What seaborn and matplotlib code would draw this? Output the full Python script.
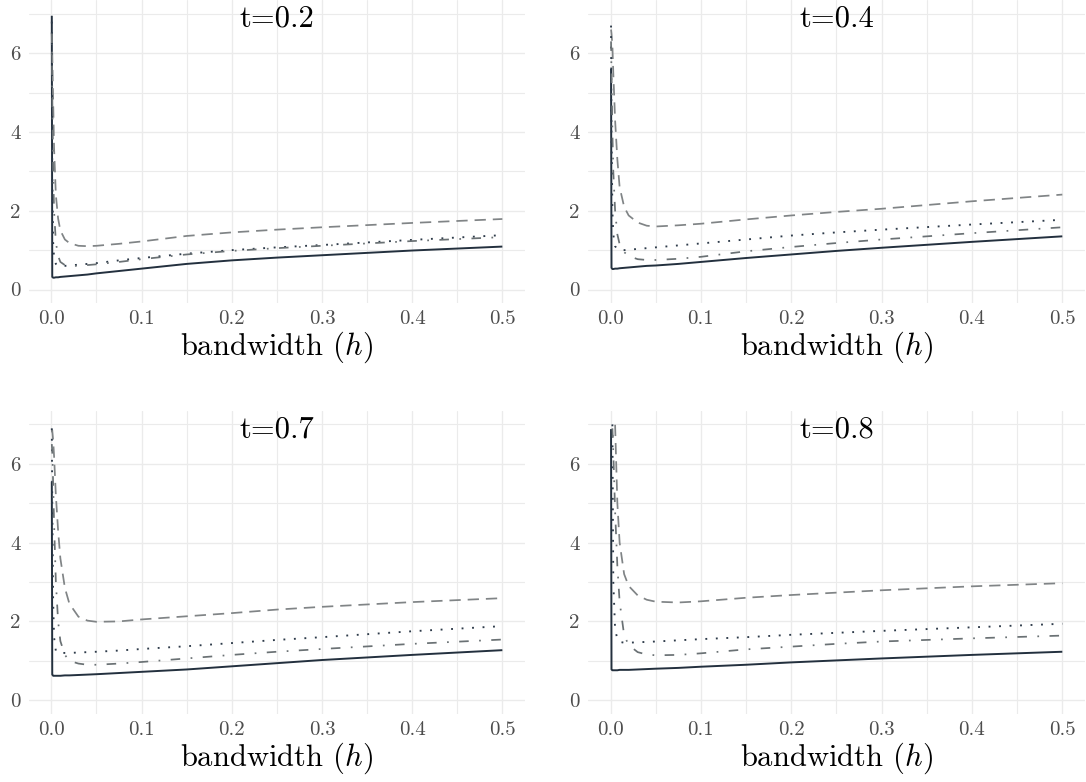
import numpy as np
import pandas as pd
import matplotlib
matplotlib.use("Agg")
import matplotlib.pyplot as plt
import seaborn as sns

nan = np.nan

# bandwidth grid
h = [0.0005, 0.001, 0.002, 0.003, 0.005, 0.0075, 0.01, 0.015, 0.02, 0.03,
     0.04, 0.05, 0.075, 0.1, 0.15, 0.2, 0.25, 0.3, 0.4, 0.5]

titles = ["t=0.2", "t=0.4", "t=0.7", "t=0.8"]
series_names = ["solid", "dashed", "dotted", "dotdash"]

# t = 0.2
t02_solid   = [6.95, 0.32, 0.30, 0.30, 0.31, 0.31, 0.32, 0.33, 0.34, 0.36, 0.38, 0.41, 0.47, 0.53, 0.65, 0.74, 0.81, 0.87, 0.99, 1.09]
t02_dashed  = [6.5, 6.0, 4.8, 3.6, 2.4, 1.8, 1.5, 1.27, 1.18, 1.11, 1.10, 1.11, 1.16, 1.22, 1.36, 1.45, 1.52, 1.58, 1.69, 1.79]
t02_dotted  = [6.8, 3.0, 1.2, 0.8, 0.65, 0.60, 0.59, 0.60, 0.61, 0.63, 0.65, 0.67, 0.74, 0.80, 0.91, 1.00, 1.07, 1.13, 1.26, 1.38]
t02_dotdash = [6.5, 5.0, 3.0, 2.0, 1.2, 0.85, 0.70, 0.62, 0.60, 0.60, 0.62, 0.64, 0.70, 0.77, 0.89, 0.98, 1.05, 1.11, 1.23, 1.33]

# t = 0.4
t04_solid   = [5.6, 0.55, 0.52, 0.52, 0.53, 0.53, 0.54, 0.55, 0.56, 0.58, 0.60, 0.61, 0.65, 0.70, 0.80, 0.89, 0.98, 1.06, 1.21, 1.35]
t04_dashed  = [6.6, 6.5, 6.2, 5.5, 4.3, 3.3, 2.6, 2.1, 1.88, 1.70, 1.62, 1.60, 1.63, 1.67, 1.78, 1.88, 1.97, 2.05, 2.24, 2.41]
t04_dotted  = [6.7, 4.0, 2.0, 1.4, 1.1, 1.02, 1.00, 1.00, 1.01, 1.03, 1.05, 1.07, 1.12, 1.17, 1.27, 1.37, 1.45, 1.52, 1.65, 1.77]
t04_dotdash = [6.3, 5.5, 4.0, 3.0, 2.0, 1.4, 1.15, 0.95, 0.85, 0.77, 0.75, 0.75, 0.78, 0.83, 0.97, 1.08, 1.18, 1.27, 1.43, 1.58]

# t = 0.7
t07_solid   = [5.55, 0.65, 0.62, 0.62, 0.62, 0.62, 0.62, 0.63, 0.63, 0.64, 0.65, 0.66, 0.69, 0.72, 0.78, 0.86, 0.94, 1.02, 1.15, 1.27]
t07_dashed  = [6.8, 6.85, 6.6, 6.2, 5.2, 4.3, 3.6, 2.85, 2.45, 2.12, 2.02, 1.99, 2.00, 2.05, 2.13, 2.21, 2.30, 2.37, 2.49, 2.59]
t07_dotted  = [6.9, 5.0, 2.5, 1.6, 1.25, 1.20, 1.20, 1.20, 1.20, 1.21, 1.22, 1.23, 1.26, 1.30, 1.37, 1.45, 1.53, 1.60, 1.75, 1.88]
t07_dotdash = [6.5, 6.3, 5.5, 4.5, 3.0, 2.0, 1.5, 1.15, 1.00, 0.93, 0.90, 0.90, 0.93, 0.97, 1.06, 1.15, 1.23, 1.30, 1.43, 1.54]

# t = 0.8
t08_solid   = [6.88, 0.78, 0.76, 0.76, 0.76, 0.76, 0.77, 0.77, 0.77, 0.78, 0.79, 0.80, 0.82, 0.85, 0.90, 0.96, 1.01, 1.06, 1.15, 1.23]
t08_dashed  = [nan, nan, nan, nan, 6.99, 5.0, 4.0, 3.2, 2.9, 2.66, 2.55, 2.50, 2.48, 2.51, 2.60, 2.67, 2.73, 2.79, 2.89, 2.97]
t08_dotted  = [nan, nan, 7.0, 3.0, 1.8, 1.55, 1.48, 1.46, 1.46, 1.47, 1.48, 1.49, 1.52, 1.55, 1.60, 1.66, 1.71, 1.76, 1.85, 1.94]
t08_dotdash = [nan, nan, 6.9, 6.3, 4.8, 3.4, 2.5, 1.65, 1.40, 1.22, 1.16, 1.14, 1.15, 1.19, 1.29, 1.36, 1.43, 1.49, 1.57, 1.64]

panels = [
    [t02_solid, t02_dashed, t02_dotted, t02_dotdash],
    [t04_solid, t04_dashed, t04_dotted, t04_dotdash],
    [t07_solid, t07_dashed, t07_dotted, t07_dotdash],
    [t08_solid, t08_dashed, t08_dotted, t08_dotdash],
]

x_ticks = [0.0, 0.1, 0.2, 0.3, 0.4, 0.5]
x_ticklabels = ["0.0", "0.1", "0.2", "0.3", "0.4", "0.5"]
y_ticks = [0, 2, 4, 6]
y_ticklabels = ["0", "2", "4", "6"]

sns.set_theme(style="white")
plt.rcParams["font.family"] = ["cmr10", "DejaVu Serif"]
plt.rcParams["mathtext.fontset"] = "cm"
plt.rcParams["axes.unicode_minus"] = False
plt.rcParams["axes.formatter.use_mathtext"] = True

styles = {
    "solid":   dict(color="#23303e", lw=1.4, dashes=None),
    "dashed":  dict(color="#808486", lw=1.25, dashes=(6.5, 4.0)),
    "dotted":  dict(color="#2e3b4a", lw=1.35, dashes=(1.0, 4.6)),
    "dotdash": dict(color="#6a7174", lw=1.25, dashes=(5.5, 6.0, 1.0, 6.0)),
}

W, H = 1086, 782
fig = plt.figure(figsize=(W / 100, H / 100), dpi=100)

# panel boxes in pixels: (left, top, right, bottom)
boxes = [(28.8, 0.0, 524.9, 303.3), (588.0, 0.0, 1084.9, 303.3),
         (28.8, 410.6, 524.9, 714.0), (588.0, 410.6, 1084.9, 714.0)]

grid_c = "#ebebeb"
for i, (vals, title) in enumerate(zip(panels, titles)):
    l, t, r, b = boxes[i]
    ax = fig.add_axes([l / W, 1 - b / H, (r - l) / W, (b - t) / H])
    for name, v in zip(series_names, vals):
        df = pd.DataFrame({"h": h, "value": v})
        st = styles[name]
        sns.lineplot(data=df, x="h", y="value", ax=ax, color=st["color"],
                     lw=st["lw"], estimator=None, sort=False, zorder=3)
        line = ax.lines[-1]
        if st["dashes"] is not None:
            line.set_dashes(st["dashes"])
        line.set_solid_capstyle("butt")
        line.set_dash_capstyle("butt")
    ax.set_xlim(-0.025, 0.525)
    ax.set_ylim(-0.35, 7.35)
    ax.set_xticks(x_ticks)
    ax.set_xticklabels(x_ticklabels)
    ax.set_yticks(y_ticks)
    ax.set_yticklabels(y_ticklabels)
    ax.set_xticks([0.05, 0.15, 0.25, 0.35, 0.45], minor=True)
    ax.set_yticks([1, 3, 5, 7], minor=True)
    ax.grid(True, which="major", color=grid_c, lw=1.0, zorder=0)
    ax.grid(True, which="minor", color=grid_c, lw=0.8, zorder=0)
    ax.set_axisbelow(True)
    for s in ax.spines.values():
        s.set_visible(False)
    ax.tick_params(axis="both", which="both", length=0, labelsize=15,
                   labelcolor="#4d4d4d")
    ax.tick_params(axis="x", pad=5)
    ax.tick_params(axis="y", pad=6)
    ax.set_xlabel(r"bandwidth $(h)$", fontsize=22, labelpad=1, color="black")
    ax.set_ylabel("")
    ax.text(0.5, 0.912, title, transform=ax.transAxes, ha="center",
            va="baseline", fontsize=22, color="black", zorder=5)

fig.savefig("out.png", dpi=100, facecolor="white")
